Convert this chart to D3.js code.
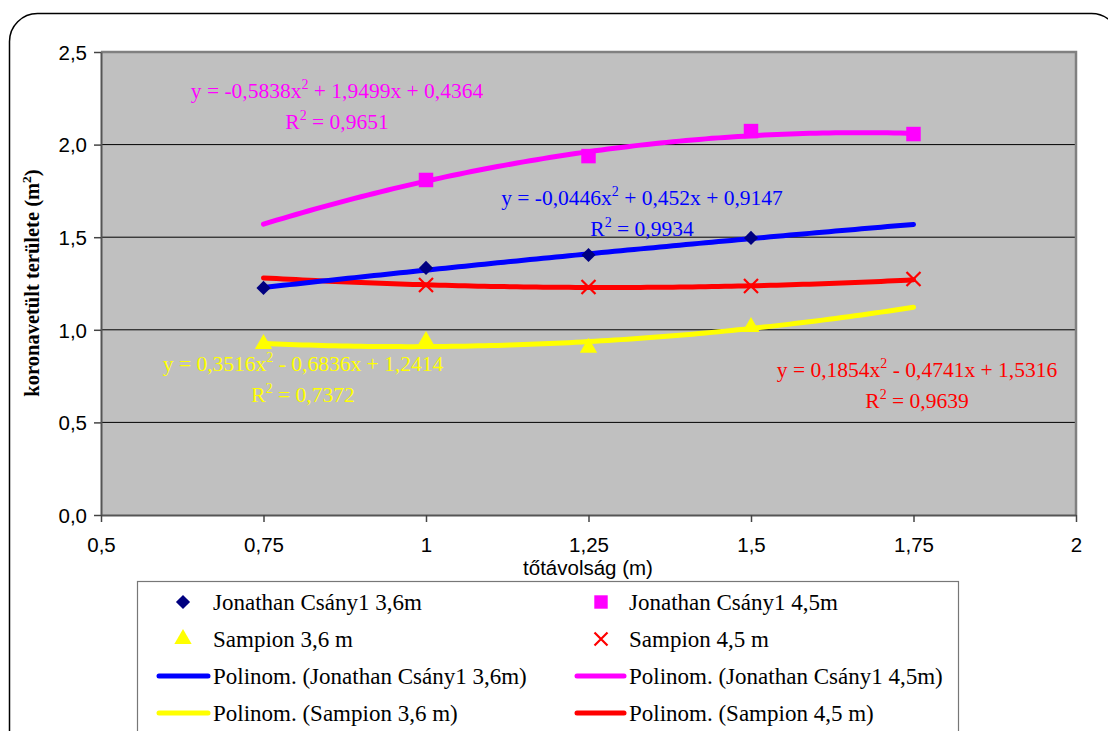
<!DOCTYPE html>
<html>
<head>
<meta charset="utf-8">
<script src="https://cdn.jsdelivr.net/npm/d3@7"></script>
<style>
  html, body { margin: 0; padding: 0; background: #fff; }
  svg { display: block; }
</style>
</head>
<body>
<svg id="chart" width="1108" height="731"></svg>
<script>
// Tree spacing (m)
const xValues = [0.75, 1, 1.25, 1.5, 1.75];

// Projected crown area (m²) per series; null = no measurement shown
const jonathan36 = [1.226, 1.334, 1.404, 1.496, null];
const jonathan45 = [null, 1.809, 1.938, 2.073, 2.057];
const sampion36  = [0.923, 0.940, 0.903, 1.015, null];
const sampion45  = [null, 1.242, 1.231, 1.236, 1.274];

// Polynomial trend coefficients [a, b, c] for y = a x² + b x + c
const trendJ36 = [-0.0446, 0.452, 0.9147];
const trendJ45 = [-0.5838, 1.9499, 0.4364];
const trendS36 = [0.3516, -0.6836, 1.2414];
const trendS45 = [0.1854, -0.4741, 1.5316];

// Trend label texts
const eqJ36 = ["y = -0,0446x", " + 0,452x + 0,9147", "0,9934"];
const eqJ45 = ["y = -0,5838x", " + 1,9499x + 0,4364", "0,9651"];
const eqS36 = ["y = 0,3516x", " - 0,6836x + 1,2414", "0,7372"];
const eqS45 = ["y = 0,1854x", " - 0,4741x + 1,5316", "0,9639"];

// Axis ticks
const xTicks = [0.5, 0.75, 1, 1.25, 1.5, 1.75, 2];
const yTicks = [0, 0.5, 1, 1.5, 2, 2.5];

const SANS = "Arial, 'Liberation Sans', sans-serif";
const SERIF = "'Times New Roman', 'Liberation Serif', serif";

const svg = d3.select("#chart");

// Rounded outer frame
svg.append("rect")
  .attr("x", 9.5).attr("y", 13.5).attr("width", 1110).attr("height", 760)
  .attr("rx", 28).attr("ry", 28)
  .attr("fill", "#fff").attr("stroke", "#000").attr("stroke-width", 1.5);

const plot = { left: 101, right: 1076, top: 52, bottom: 515 };

const x = d3.scaleLinear().domain([0.5, 2]).range([plot.left, plot.right]);
const y = d3.scaleLinear().domain([0, 2.5]).range([plot.bottom, plot.top]);

const comma = v => String(v).replace(".", ",");

// Plot background
svg.append("rect")
  .attr("x", plot.left).attr("y", plot.top)
  .attr("width", plot.right - plot.left).attr("height", plot.bottom - plot.top)
  .attr("fill", "#c0c0c0");

// Horizontal gridlines
svg.append("g").selectAll("line")
  .data(yTicks.filter(v => v > 0 && v < 2.5))
  .join("line")
  .attr("x1", plot.left).attr("x2", plot.right)
  .attr("y1", d => y(d)).attr("y2", d => y(d))
  .attr("stroke", "#000").attr("stroke-width", 1);

// Plot border (top and right)
svg.append("path")
  .attr("d", `M${plot.left},${plot.top}H${plot.right}V${plot.bottom}`)
  .attr("fill", "none").attr("stroke", "#808080").attr("stroke-width", 2.5);

// Y axis
const yAxis = svg.append("g")
  .attr("transform", `translate(${plot.left},0)`)
  .call(d3.axisLeft(y).tickValues(yTicks).tickSize(7).tickSizeOuter(0)
    .tickFormat(d => d3.format(".1f")(d).replace(".", ",")));
yAxis.select(".domain").attr("stroke", "#555").attr("stroke-width", 2);
yAxis.selectAll(".tick line").attr("stroke", "#444").attr("stroke-width", 1.5);
yAxis.selectAll(".tick text")
  .attr("x", -14).attr("dy", "0.36em")
  .attr("font-family", SANS)
  .attr("font-size", 20.5).attr("fill", "#000");

// X axis
const xAxis = svg.append("g")
  .attr("transform", `translate(0,${plot.bottom})`)
  .call(d3.axisBottom(x).tickValues(xTicks).tickSize(7).tickSizeOuter(0)
    .tickFormat(comma));
xAxis.select(".domain").attr("stroke", "#555").attr("stroke-width", 2);
xAxis.selectAll(".tick line").attr("stroke", "#444").attr("stroke-width", 1.5);
xAxis.selectAll(".tick text")
  .attr("y", 22).attr("dy", "0.71em")
  .attr("font-family", SANS)
  .attr("font-size", 20.5).attr("fill", "#000");

// Axis titles
svg.append("text")
  .attr("x", 588).attr("y", 575)
  .attr("text-anchor", "middle")
  .attr("font-family", SANS)
  .attr("font-size", 20.5)
  .text("tőtávolság (m)");

const yTitle = svg.append("text")
  .attr("transform", "translate(39,283) rotate(-90)")
  .attr("text-anchor", "middle")
  .attr("font-family", SERIF)
  .attr("font-weight", "bold")
  .attr("font-size", 20.5);
yTitle.append("tspan").text("koronavetült területe (m");
yTitle.append("tspan").attr("font-size", 13.5).attr("dy", -8).text("2");
yTitle.append("tspan").attr("dy", 8).text(")");

// Trend curves from polynomial coefficients
const poly = (c, v) => c[0] * v * v + c[1] * v + c[2];
const trendX = d3.range(0, 101).map(i => 0.75 + i * 0.01);
const line = d3.line().x(d => x(d[0])).y(d => y(d[1])).curve(d3.curveLinear);

const trends = [
  { coef: trendS36, color: "#ffff00" },
  { coef: trendS45, color: "#ff0000" },
  { coef: trendJ36, color: "#0000ff" },
  { coef: trendJ45, color: "#ff00ff" }
];
svg.append("g").selectAll("path")
  .data(trends)
  .join("path")
  .attr("d", t => line(trendX.map(v => [v, poly(t.coef, v)])))
  .attr("fill", "none").attr("stroke", d => d.color)
  .attr("stroke-width", 5).attr("stroke-linecap", "round");

// Markers
function pts(arr) {
  return xValues.map((v, i) => [v, arr[i]]).filter(d => d[1] !== null);
}
const diamond = d3.symbol().type(d3.symbolSquare).size(100)();
const square = d3.symbol().type(d3.symbolSquare).size(210)();
const triangle = d3.symbol().type(d3.symbolTriangle).size(130)();

function drawSymbols(data, pathD, fill, rot) {
  svg.append("g").selectAll("path")
    .data(data).join("path")
    .attr("d", pathD)
    .attr("transform", d => `translate(${x(d[0])},${y(d[1])})${rot ? " rotate(45)" : ""}`)
    .attr("fill", fill);
}
function drawCross(g, cx, cy, r) {
  g.append("path")
    .attr("d", `M${cx - r},${cy - r}L${cx + r},${cy + r}M${cx - r},${cy + r}L${cx + r},${cy - r}`)
    .attr("stroke", "#ff0000").attr("stroke-width", 2.2).attr("fill", "none");
}

drawSymbols(pts(jonathan36), diamond, "#000080", true);
drawSymbols(pts(jonathan45), square, "#ff00ff", false);
drawSymbols(pts(sampion36), triangle, "#ffff00", false);
const crossG = svg.append("g");
pts(sampion45).forEach(d => drawCross(crossG, x(d[0]), y(d[1]), 7));

// Trend equation labels
function eqLabel(eq, cx, cy, color) {
  const g = svg.append("g")
    .attr("font-family", SERIF)
    .attr("font-size", 21.5).attr("fill", color).attr("text-anchor", "middle");
  const t1 = g.append("text").attr("x", cx).attr("y", cy);
  t1.append("tspan").text(eq[0]);
  t1.append("tspan").attr("font-size", 14).attr("dy", -9).text("2");
  t1.append("tspan").attr("dy", 9).text(eq[1]);
  const t2 = g.append("text").attr("x", cx).attr("y", cy + 31);
  t2.append("tspan").text("R");
  t2.append("tspan").attr("font-size", 14).attr("dy", -9).text("2");
  t2.append("tspan").attr("dy", 9).text(" = " + eq[2]);
}
eqLabel(eqJ45, 337, 98, "#ff00ff");
eqLabel(eqJ36, 642, 205, "#0000ff");
eqLabel(eqS36, 303, 371, "#ffff00");
eqLabel(eqS45, 917, 377, "#ff0000");

// Legend
svg.append("rect")
  .attr("x", 137.5).attr("y", 581.5).attr("width", 821).attr("height", 200)
  .attr("fill", "#fff").attr("stroke", "#777").attr("stroke-width", 1.2);

const legendItems = [
  { label: "Jonathan Csány1 3,6m", kind: "diamond", color: "#000080", col: 0, row: 0 },
  { label: "Jonathan Csány1 4,5m", kind: "square", color: "#ff00ff", col: 1, row: 0 },
  { label: "Sampion 3,6 m", kind: "triangle", color: "#ffff00", col: 0, row: 1 },
  { label: "Sampion 4,5 m", kind: "cross", color: "#ff0000", col: 1, row: 1 },
  { label: "Polinom. (Jonathan Csány1 3,6m)", kind: "line", color: "#0000ff", col: 0, row: 2 },
  { label: "Polinom. (Jonathan Csány1 4,5m)", kind: "line", color: "#ff00ff", col: 1, row: 2 },
  { label: "Polinom. (Sampion 3,6 m)", kind: "line", color: "#ffff00", col: 0, row: 3 },
  { label: "Polinom. (Sampion 4,5 m)", kind: "line", color: "#ff0000", col: 1, row: 3 }
];
const colX = [183, 601];
const textX = [213, 629];
const rowY = [602, 639, 676, 713];
const lg = svg.append("g");
legendItems.forEach(it => {
  const cx = colX[it.col], cy = rowY[it.row];
  if (it.kind === "diamond") {
    lg.append("path").attr("d", diamond)
      .attr("transform", `translate(${cx},${cy}) rotate(45)`).attr("fill", it.color);
  } else if (it.kind === "square") {
    lg.append("path").attr("d", d3.symbol().type(d3.symbolSquare).size(180)())
      .attr("transform", `translate(${cx},${cy})`).attr("fill", it.color);
  } else if (it.kind === "triangle") {
    lg.append("path").attr("d", triangle)
      .attr("transform", `translate(${cx},${cy})`).attr("fill", it.color);
  } else if (it.kind === "cross") {
    drawCross(lg, cx, cy, 6.5);
  } else {
    lg.append("line")
      .attr("x1", cx - 24).attr("x2", textX[it.col] - 5).attr("y1", cy).attr("y2", cy)
      .attr("stroke", it.color).attr("stroke-width", 5).attr("stroke-linecap", "round");
  }
  lg.append("text")
    .attr("x", textX[it.col]).attr("y", cy).attr("dy", "0.35em")
    .attr("font-family", SERIF)
    .attr("font-size", 23).attr("fill", "#000")
    .text(it.label);
});
</script>
</body>
</html>
